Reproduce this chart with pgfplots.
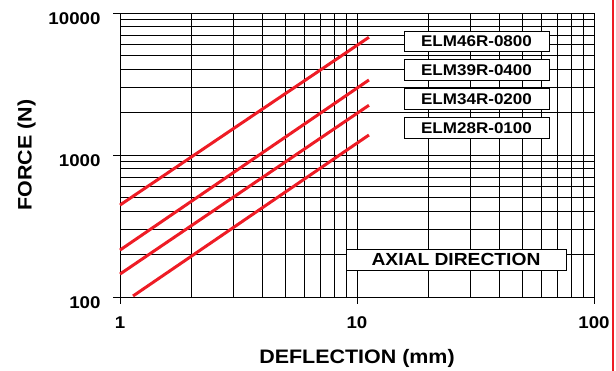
\documentclass[border=0pt]{standalone}
\usepackage{fontspec}
\setmainfont{Liberation Sans}[FakeStretch=1.1]
\usepackage{pgfplots}
\pgfplotsset{compat=1.18}
\definecolor{lred}{HTML}{EE1C25}
\begin{document}
\begin{tikzpicture}[x=1pt,y=1pt]
\useasboundingbox (0,0) rectangle (616,371);
\begin{axis}[
  at={(120pt,74pt)}, anchor=south west,
  scale only axis, width=474pt, height=284pt,
  xmode=log, ymode=log,
  xmin=1, xmax=100, ymin=100, ymax=10000,
  log basis x=10, log basis y=10,
  xtick={1,10,100}, ytick={100,1000,10000},
  xticklabels={1,10,100}, yticklabels={100,1000,10000},
  minor xtick={2,3,4,5,6,7,8,9,20,30,40,50,60,70,80,90},
  minor ytick={200,300,400,500,600,700,800,900,2000,3000,4000,5000,6000,7000,8000,9000},
  grid=both,
  major grid style={black, line width=0.8pt},
  minor grid style={black, line width=0.8pt},
  axis line style={black, line width=0.8pt},
  tick style={black, line width=0.8pt},
  tick align=outside, tick pos=left,
  major tick length=7pt, minor tick length=0pt,
  axis x line*=bottom, axis y line*=left,
  ticklabel style={font=\fontsize{17}{17}\selectfont\bfseries},
  /pgf/number format/assume math mode=true,
  yticklabel style={yshift=-6pt, xshift=-9pt},
  xticklabel style={yshift=-9pt},
  xlabel={DEFLECTION (mm)}, ylabel={FORCE (N)},
  label style={font=\fontsize{19.5}{20}\selectfont\bfseries},
  xlabel style={yshift=-14pt},
  ylabel style={yshift=6pt},
  clip=false,
]
\addplot[lred, line width=3pt] coordinates {(1,444) (11.23,6745)};
\addplot[lred, line width=3pt] coordinates {(1,214) (11.23,3375)};
\addplot[lred, line width=3pt] coordinates {(1,145) (11.23,2240)};
\addplot[lred, line width=3pt] coordinates {(1.135,101.6) (11.23,1383)};
\end{axis}
\begin{scope}[every node/.style={draw=black, line width=0.8pt, fill=white, inner sep=0pt, font=\fontsize{15.5}{16}\selectfont\bfseries, minimum width=145pt, minimum height=20.5pt}]
\node at (476.5,329.5) {ELM46R-0800};
\node at (476.5,301) {ELM39R-0400};
\node at (476.5,272) {ELM34R-0200};
\node at (476.5,243) {ELM28R-0100};
\node[minimum width=220pt, minimum height=21pt, font=\fontsize{17.5}{18}\selectfont\bfseries] at (456,111.5) {AXIAL DIRECTION};
\end{scope}
\draw[lred, line width=2pt] (613,0) -- (613,371);
\end{tikzpicture}
\end{document}
